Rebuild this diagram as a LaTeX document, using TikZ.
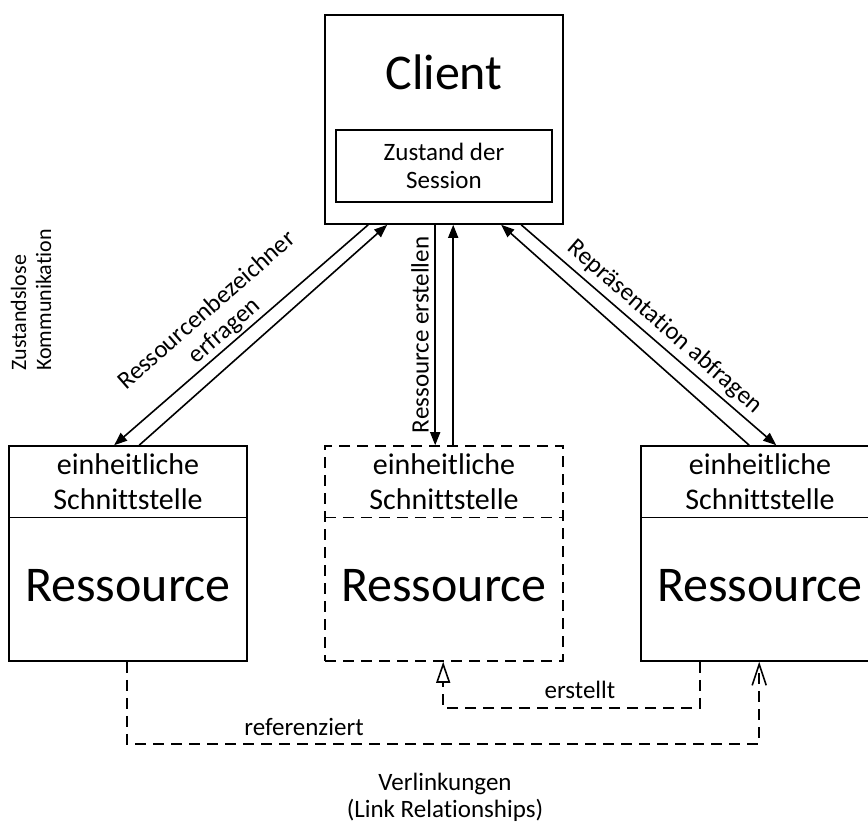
\documentclass[tikz,border=0pt]{standalone}
\usepackage{fontspec}
\setmainfont{Carlito}[Ligatures=NoCommon]
\usetikzlibrary{arrows.meta}

\tikzset{
  thickline/.style={line width=1.6pt},
  bigtxt/.style={font=\fontsize{50}{60}\selectfont, inner sep=0pt},
  headtxt/.style={font=\fontsize{30}{35}\selectfont, align=center, inner sep=0pt,
                  minimum width=238pt, minimum height=72pt},
  lbl/.style={font=\fontsize{25}{27}\selectfont, inner sep=0pt},
  sidelbl/.style={font=\fontsize{22}{25}\selectfont, inner sep=0pt},
  resbox/.style={thickline, draw, minimum width=238pt, minimum height=215pt, inner sep=0pt},
  clientbox/.style={thickline, draw, minimum width=238pt, minimum height=209pt, inner sep=0pt},
  sessbox/.style={thickline, draw, minimum width=216pt, minimum height=72pt, inner sep=0pt,
                  font=\fontsize{25}{28}\selectfont, align=center},
  dashline/.style={dash pattern=on 11pt off 7pt},
  msg/.style={thickline, -{Triangle[length=13pt,width=10pt]}},
  dep/.style={thickline, dashline},
}

\begin{document}
\begin{tikzpicture}[x=1pt, y=-1pt]
\clip (0,0) rectangle (868,825);

% client with its session state
\node[clientbox] (client) at (444,119.5) {};
\node[bigtxt] (clienttxt) at (444,72) {Client};
\node[sessbox] (session) at (444,166) {Zustand der\\Session};

% three resources, the middle one only planned (dashed)
\node[resbox] (lbox) at (128,553.5) {};
\node[resbox, dashline] (mbox) at (444,553.5) {};
\node[resbox] (rbox) at (760,553.5) {};

\foreach \b/\h in {lbox/lhead, mbox/mhead, rbox/rhead}{
  \node[headtxt, anchor=north] (\h) at (\b.north) {einheitliche\\Schnittstelle};
}
\draw[thickline] (lhead.south west) -- (lhead.south east);
\draw[thickline, dashline] (mhead.south west) -- (mhead.south east);
\draw[thickline] (rhead.south west) -- (rhead.south east);

\node[bigtxt] (lres) at (128,586) {Ressource};
\node[bigtxt] (mres) at (444,586) {Ressource};
\node[bigtxt] (rres) at (760,586) {Ressource};

% requests between client and resources
\draw[msg] ([xshift=44pt]client.south west) -- ([xshift=106pt]lbox.north west);
\draw[msg] ([xshift=131pt]lbox.north west) -- ([xshift=63pt]client.south west);
\draw[msg] ([xshift=111pt]client.south west) -- ([xshift=111pt]mbox.north west);
\draw[msg] ([xshift=129pt]mbox.north west) -- ([xshift=129pt]client.south west);
\draw[msg] ([xshift=109pt]rbox.north west) -- ([xshift=177pt]client.south west);
\draw[msg] ([xshift=197pt]client.south west) -- ([xshift=136pt]rbox.north west);

\node[lbl, rotate=41.2, align=center] (q1) at (216,321) {Ressourcenbezeichner\\erfragen};
\node[lbl, rotate=90] (q2) at (420,335) {Ressource erstellen};
\node[lbl, rotate=-41.1] (q3) at (665,327) {Repräsentation abfragen};
\node[sidelbl, rotate=90, align=left] (stateless) at (31,300) {Zustandslose\\Kommunikation};

% links between resources
\draw[dep, -{Straight Barb[length=21pt,width=14pt,line width=1.6pt]}]
  ([xshift=119pt]lbox.south west) -- ++(0,82) -| ([xshift=119pt]rbox.south west);
\draw[dep, -{Triangle[open,length=21pt,width=14pt,line width=1.6pt]}]
  ([xshift=60pt]rbox.south west) -- ++(0,46) -| ([xshift=119pt]mbox.south west);

\node[lbl] (creates) at (580,690) {erstellt};
\node[lbl] (refs) at (304,727) {referenziert};
\node[lbl, align=center] (links) at (445,797) {Verlinkungen\\(Link Relationships)};
\end{tikzpicture}
\end{document}
